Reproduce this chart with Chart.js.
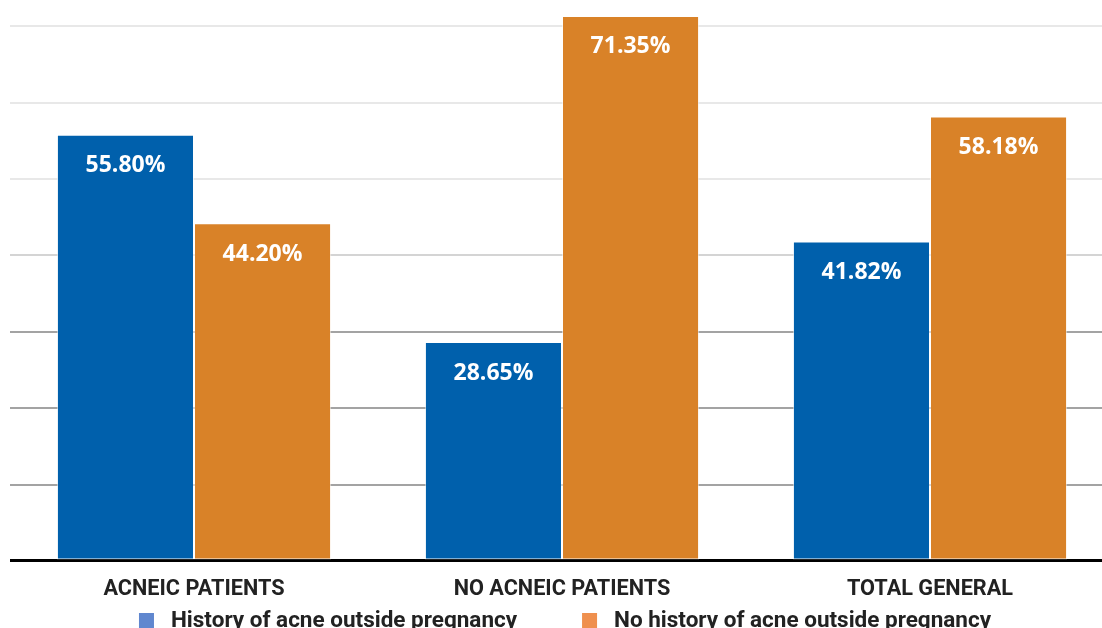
<!DOCTYPE html>
<html>
<head>
<meta charset="utf-8">
<title>Acne history during pregnancy</title>
<script src="https://cdn.jsdelivr.net/npm/chart.js@4.4.1/dist/chart.umd.min.js"></script>
<style>
  html, body { margin: 0; padding: 0; background: #ffffff; overflow: hidden; }
  #wrap { position: relative; width: 1114px; height: 628px; }
</style>
</head>
<body>
<div id="wrap"><canvas id="chart"></canvas></div>
<script>
// Groups on the x axis
const categories = ['ACNEIC PATIENTS', 'NO ACNEIC PATIENTS', 'TOTAL GENERAL'];

// Share of women (%) in each group
const historyOutside = [55.80, 28.65, 41.82];
const noHistoryOutside = [44.20, 71.35, 58.18];

const seriesNames = ['History of acne outside pregnancy', 'No history of acne outside pregnancy'];
const barColors = ['#0060ac', '#d98228'];
const legendColors = ['#6087cf', '#ef904e'];

const axisFont = { family: 'Roboto', size: 21.7, weight: 'bold' };

// White percentage labels near the top of each bar
const valueLabels = {
  id: 'valueLabels',
  afterDraw(chart) {
    const ctx = chart.ctx;
    ctx.save();
    ctx.fillStyle = '#ffffff';
    ctx.font = '700 23px "Open Sans"';
    ctx.textAlign = 'center';
    ctx.textBaseline = 'middle';
    chart.data.datasets.forEach((ds, di) => {
      chart.getDatasetMeta(di).data.forEach((bar, i) => {
        ctx.fillText(ds.data[i].toFixed(2) + '%', bar.x, bar.y + 31);
      });
    });
    ctx.restore();
  }
};

// Legend row under the category labels
const bottomLegend = {
  id: 'bottomLegend',
  afterDraw(chart) {
    const ctx = chart.ctx;
    const box = 15, textGap = 17, itemGap = 65;
    ctx.save();
    ctx.font = 'bold 22.5px Roboto';
    ctx.textBaseline = 'middle';
    ctx.textAlign = 'left';
    const widths = seriesNames.map(n => ctx.measureText(n).width);
    const total = widths.reduce((a, w) => a + box + textGap + w, 0) + itemGap * (seriesNames.length - 1);
    const area = chart.chartArea;
    let x = (area.left + area.right) / 2 - total / 2 + 3;
    const y = 621;
    seriesNames.forEach((name, i) => {
      ctx.fillStyle = legendColors[i];
      ctx.fillRect(x, y - 8, box, box);
      ctx.fillStyle = '#222222';
      ctx.fillText(name, x + box + textGap, y);
      x += box + textGap + widths[i] + itemGap;
    });
    ctx.restore();
  }
};

function gridColor(v) {
  if (v === 0) return '#000000';
  if (v >= 50) return 'rgba(0,0,0,0.09)';
  if (v >= 40) return 'rgba(0,0,0,0.17)';
  return 'rgba(0,0,0,0.36)';
}

new Chart(document.getElementById('chart'), {
  type: 'bar',
  data: {
    labels: categories,
    datasets: [
      { label: seriesNames[0], data: historyOutside, backgroundColor: barColors[0] },
      { label: seriesNames[1], data: noHistoryOutside, backgroundColor: barColors[1] }
    ]
  },
  options: {
    responsive: true,
    maintainAspectRatio: false,
    animation: false,
    layout: { padding: { left: 10, right: 0, top: 0, bottom: 9 } },
    datasets: {
      bar: {
        categoryPercentage: 0.745,
        barPercentage: 1,
        borderWidth: 1,
        borderColor: 'rgba(255,255,255,0.55)',
        borderSkipped: false
      }
    },
    plugins: {
      legend: { display: false },
      tooltip: { enabled: false }
    },
    scales: {
      x: {
        grid: { display: false, drawTicks: false },
        border: { display: false },
        ticks: { color: '#222222', font: axisFont, padding: 16 }
      },
      y: {
        min: 0,
        max: 73.43,
        z: 1,
        border: { display: false },
        grid: {
          drawTicks: false,
          color: ctx => gridColor(ctx.tick.value),
          lineWidth: ctx => (ctx.tick.value === 0 ? 3 : 2)
        },
        ticks: { display: false, stepSize: 10, includeBounds: false }
      }
    }
  },
  plugins: [valueLabels, bottomLegend]
});
</script>
</body>
</html>
